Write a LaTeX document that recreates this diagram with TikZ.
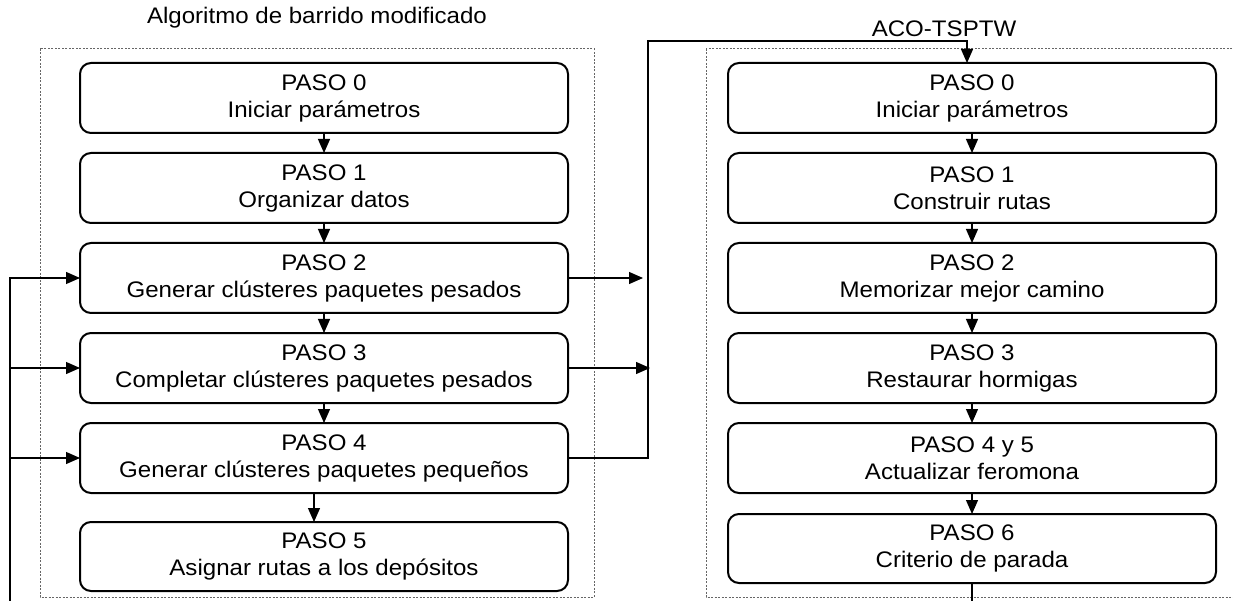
\documentclass[tikz,border=0pt]{standalone}
\usepackage{fontspec}
\setmainfont[FakeStretch=1.07]{Liberation Sans}
\usetikzlibrary{arrows.meta,calc}
\tikzset{
  stepbox/.style={draw=black, line width=2pt, rounded corners=11pt, minimum width=488pt, minimum height=70pt, anchor=north west, align=center, inner sep=0pt, outer sep=0pt, font=\fontsize{22.5}{27}\selectfont},
  frame/.style={draw=black!60, line width=1pt, dash pattern=on 2pt off 1.5pt},
  conn/.style={draw=black, line width=1.2pt},
  arr/.style={conn, -{Triangle[length=14pt,width=12pt]}},
  ttl/.style={font=\fontsize{22.5}{27}\selectfont, inner sep=0pt}
}
\begin{document}
\begin{tikzpicture}[x=1pt,y=-1pt]
\useasboundingbox (0,0) rectangle (1233,601);
% frames
\draw[frame] (40,49) rectangle (594,597);
\draw[frame] (706,49) rectangle (1240,597);
% titles
\node[ttl] (tl) at (317,18) {Algoritmo de barrido modificado};
\node[ttl] (tr) at (944,29) {ACO-TSPTW};
% left boxes
\node[stepbox] (L0) at (80,63) {PASO 0\\Iniciar parámetros};
\node[stepbox] (L1) at (80,153) {PASO 1\\Organizar datos};
\node[stepbox] (L2) at (80,243) {PASO 2\\Generar clústeres paquetes pesados};
\node[stepbox] (L3) at (80,333) {PASO 3\\Completar clústeres paquetes pesados};
\node[stepbox] (L4) at (80,423) {PASO 4\\Generar clústeres paquetes pequeños};
\node[stepbox, minimum height=69pt] (L5) at (80,522) {PASO 5\\Asignar rutas a los depósitos};
% right boxes
\node[stepbox] (R0) at (728,63) {PASO 0\\Iniciar parámetros};
\node[stepbox] (R1) at (728,153) {PASO 1\\Construir rutas};
\node[stepbox] (R2) at (728,243) {PASO 2\\Memorizar mejor camino};
\node[stepbox] (R3) at (728,333) {PASO 3\\Restaurar hormigas};
\node[stepbox] (R4) at (728,423) {PASO 4 y 5\\Actualizar feromona};
\node[stepbox, minimum height=69pt] (R5) at (728,514) {PASO 6\\Criterio de parada};
% vertical arrows left
\draw[arr] (L0.south) -- (L1.north);
\draw[arr] (L1.south) -- (L2.north);
\draw[arr] (L2.south) -- (L3.north);
\draw[arr] (L3.south) -- (L4.north);
\draw[arr] ([xshift=-10pt]L4.south) -- ([xshift=-10pt]L5.north);
% vertical arrows right
\draw[arr] (R0.south) -- (R1.north);
\draw[arr] (R1.south) -- (R2.north);
\draw[arr] (R2.south) -- (R3.north);
\draw[arr] (R3.south) -- (R4.north);
\draw[arr] (R4.south) -- (R5.north);
\coordinate (rend) at (972,605);
\draw[conn] (R5.south) -- (rend);
% feedback on the left
\coordinate (fb) at (10,605);
\draw[arr] (fb) |- (L2.west);
\draw[arr] (fb |- L3.west) -- (L3.west);
\draw[arr] (fb |- L4.west) -- (L4.west);
% bus to the right algorithm
\coordinate (bus) at (648,41);
\draw[arr] (L2.east) -- ([xshift=-5pt]bus |- L2.east);
\draw[arr] (L3.east) -- ([xshift=2pt]bus |- L3.east);
\draw[arr] (L4.east) -| (bus) -| ([xshift=-5pt]R0.north);
\end{tikzpicture}
\end{document}
